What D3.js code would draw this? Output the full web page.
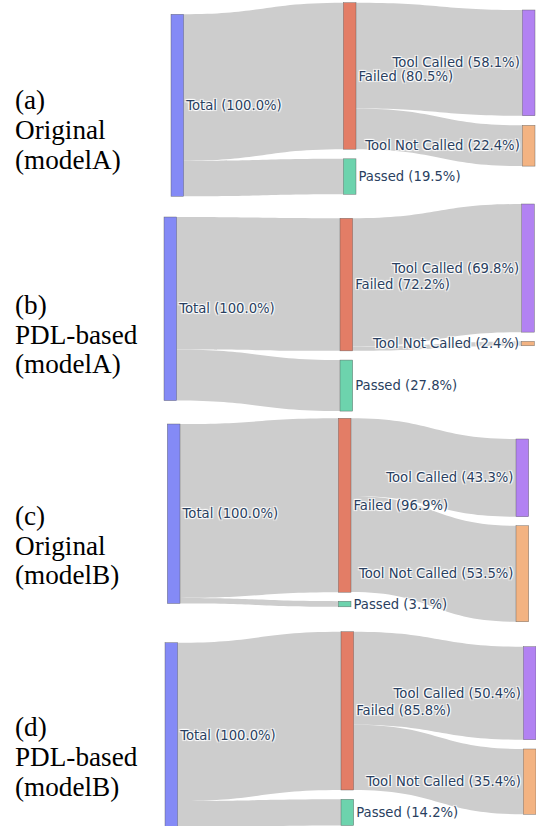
<!DOCTYPE html>
<html>
<head>
<meta charset="utf-8">
<script src="https://cdn.jsdelivr.net/npm/d3@7"></script>
<style>
  html, body { margin: 0; padding: 0; background: #fff; }
  svg { display: block; }
  .node-label {
    font-family: "DejaVu Sans", Verdana, sans-serif;
    font-size: 13.2px;
    fill: #2a3f5f;
    text-shadow: 1px 1px 1px #fff, -1px -1px 1px #fff, 1px -1px 1px #fff, -1px 1px 1px #fff;
  }
  .caption {
    font-family: "Liberation Serif", "Times New Roman", serif;
    font-size: 27.2px;
    fill: #000;
  }
</style>
</head>
<body>
<svg id="chart" width="536" height="826"></svg>
<script>
// Sub-figure captions, one entry per panel
const panelTags = ["(a)", "(b)", "(c)", "(d)"];
const panelMethods = ["Original", "PDL-based", "Original", "PDL-based"];
const panelModels = ["(modelA)", "(modelA)", "(modelB)", "(modelB)"];

// Node names
const nodeNames = ["Total", "Failed", "Passed", "Tool Called", "Tool Not Called"];

// Share of all runs (%) per node, one entry per panel
const totalPct = [100.0, 100.0, 100.0, 100.0];
const failedPct = [80.5, 72.2, 96.9, 85.8];
const passedPct = [19.5, 27.8, 3.1, 14.2];
const toolCalledPct = [58.1, 69.8, 43.3, 50.4];
const toolNotCalledPct = [22.4, 2.4, 53.5, 35.4];

// Flow structure: source node -> target node
const linkSources = [0, 0, 1, 1];
const linkTargets = [1, 2, 3, 4];
// Column of each node
const nodeColumns = [0, 1, 1, 2, 2];

// Node fills
const nodeColors = ["#848af6", "#e37d66", "#6dd3ad", "#b282f2", "#f3b382"];
const linkColor = "#cdcdcd";

// Per-panel arrangement (column tops, node gaps, scale, column x, caption baselines)
const frames = [
  { colTop: [14.3, 2.7, 10.0],  gap: 9.6, pxPerPct: 1.82,  colX: [171.0, 343.3, 522.3], captionY: [109, 139, 168.5] },
  { colTop: [217.0, 218.3, 204.0], gap: 9.2, pxPerPct: 1.836, colX: [164.0, 340.0, 521.7], captionY: [314, 344, 373] },
  { colTop: [424.0, 418.3, 439.0], gap: 9.0, pxPerPct: 1.795, colX: [167.3, 338.3, 516.0], captionY: [525, 555, 584] },
  { colTop: [642.7, 631.7, 646.7], gap: 9.3, pxPerPct: 1.845, colX: [165.0, 341.0, 523.3], captionY: [736, 766, 796] }
];
const nodeWidth = 12.7;
const labelPad = 2.5;

const svg = d3.select("#chart");

frames.forEach((frame, p) => {
  const values = [totalPct[p], failedPct[p], passedPct[p], toolCalledPct[p], toolNotCalledPct[p]];
  const h = d3.scaleLinear().domain([0, 100]).range([0, 100 * frame.pxPerPct]);
  const col = d3.scaleOrdinal().domain([0, 1, 2]).range(frame.colX);

  // Stack nodes within each column
  const nodes = nodeNames.map((name, i) => ({ name, value: values[i], column: nodeColumns[i], index: i }));
  d3.group(nodes, d => d.column).forEach((colNodes, c) => {
    let y = frame.colTop[c];
    colNodes.forEach(n => {
      n.x0 = col(c);
      n.x1 = n.x0 + nodeWidth;
      n.y0 = y;
      n.y1 = y + h(n.value);
      y = n.y1 + frame.gap;
    });
  });

  // Links, stacked in order along source and target edges
  const outOffset = nodes.map(n => n.y0);
  const inOffset = nodes.map(n => n.y0);
  const links = linkSources.map((s, k) => {
    const t = linkTargets[k];
    const v = values[t];
    const w = h(v);
    const l = {
      xs: nodes[s].x1, xt: nodes[t].x0,
      ys0: outOffset[s], ys1: outOffset[s] + w,
      yt0: inOffset[t], yt1: inOffset[t] + w
    };
    outOffset[s] += w;
    inOffset[t] += w;
    return l;
  });

  const g = svg.append("g").attr("class", "panel");

  g.selectAll("path.link")
    .data(links)
    .join("path")
    .attr("class", "link")
    .attr("fill", linkColor)
    .attr("d", l => {
      const xm = (l.xs + l.xt) / 2;
      return `M${l.xs},${l.ys0}C${xm},${l.ys0} ${xm},${l.yt0} ${l.xt},${l.yt0}` +
             `L${l.xt},${l.yt1}C${xm},${l.yt1} ${xm},${l.ys1} ${l.xs},${l.ys1}Z`;
    });

  g.selectAll("rect.node")
    .data(nodes)
    .join("rect")
    .attr("class", "node")
    .attr("x", d => d.x0)
    .attr("y", d => d.y0)
    .attr("width", d => d.x1 - d.x0)
    .attr("height", d => d.y1 - d.y0)
    .attr("fill", d => nodeColors[d.index])
    .attr("stroke", "#555")
    .attr("stroke-opacity", 0.8)
    .attr("stroke-width", 0.5);

  g.selectAll("text.node-label")
    .data(nodes)
    .join("text")
    .attr("class", "node-label")
    .attr("x", d => d.column === 2 ? d.x0 - labelPad : d.x1 + labelPad)
    .attr("y", d => (d.y0 + d.y1) / 2)
    .attr("dy", "0.35em")
    .attr("text-anchor", d => d.column === 2 ? "end" : "start")
    .text(d => `${d.name} (${d.value.toFixed(1)}%)`);

  // Caption on the left
  const lines = [panelTags[p], panelMethods[p], panelModels[p]];
  g.selectAll("text.caption")
    .data(lines)
    .join("text")
    .attr("class", "caption")
    .attr("x", 15)
    .attr("y", (d, i) => frame.captionY[i])
    .text(d => d);
});
</script>
</body>
</html>
